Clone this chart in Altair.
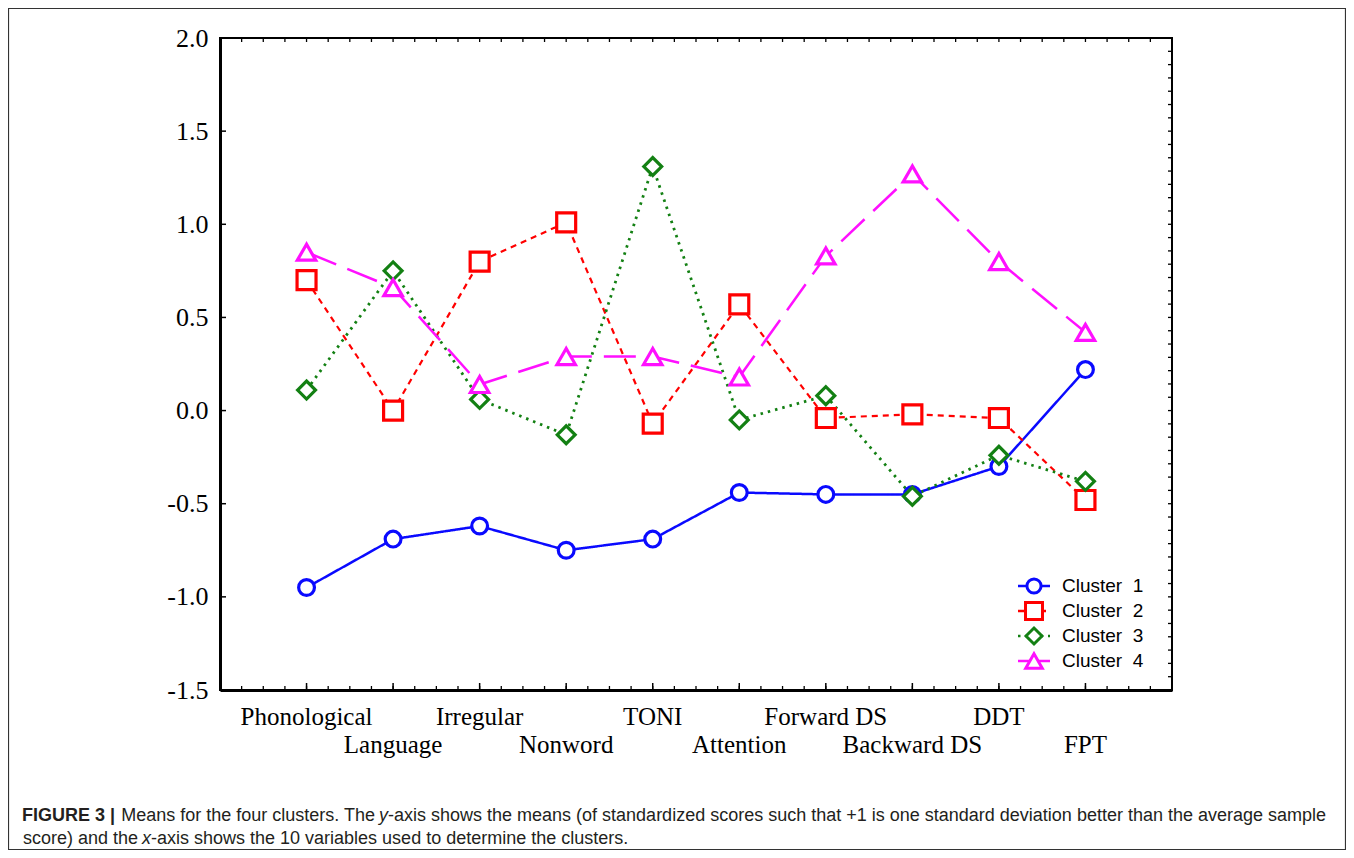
import altair as alt
import pandas as pd
import numpy as np

variables = ["Phonological", "Language", "Irregular", "Nonword", "TONI",
             "Attention", "Forward DS", "Backward DS", "DDT", "FPT"]
cluster1 = [-0.95, -0.69, -0.62, -0.75, -0.69, -0.44, -0.45, -0.45, -0.30, 0.22]
cluster2 = [0.70, 0.00, 0.80, 1.01, -0.07, 0.57, -0.04, -0.02, -0.04, -0.48]
cluster3 = [0.11, 0.75, 0.06, -0.13, 1.31, -0.05, 0.08, -0.46, -0.24, -0.38]
cluster4 = [0.85, 0.66, 0.14, 0.29, 0.29, 0.18, 0.83, 1.27, 0.80, 0.42]
cluster_names = ["Cluster 1", "Cluster 2", "Cluster 3", "Cluster 4"]
legend_labels = ["Cluster\u00a0\u00a01", "Cluster\u00a0\u00a02", "Cluster\u00a0\u00a03", "Cluster\u00a0\u00a04"]
y_ticks = [-1.5, -1.0, -0.5, 0.0, 0.5, 1.0, 1.5, 2.0]

series = [cluster1, cluster2, cluster3, cluster4]
colors = ["#0a0aff", "#ff0000", "#138013", "#ff10ff"]
dashes = [[1, 0], [6, 5], [2.5, 5], [32, 12]]
widths = [2.5, 2.2, 2.8, 2.5]
shapes = ["circle", "square", "diamond", "triangle-up"]
sizes = [250, 360, 320, 340]

W, H = 952, 652
xs = alt.Scale(domain=[0, 11], nice=False, zero=False)
ys = alt.Scale(domain=[-1.5, 2.0], nice=False, zero=False)

rows = []
for name, vals in zip(cluster_names, series):
    for i, (v, val) in enumerate(zip(variables, vals)):
        rows.append({"cluster": name, "variable": v, "pos": i + 1, "value": val})
df = pd.DataFrame(rows)

layers = []

base_axes = alt.Chart(pd.DataFrame({"pos": [0], "value": [0.0]})).mark_point(opacity=0).encode(
    x=alt.X("pos:Q", scale=xs, axis=alt.Axis(values=[], labels=False, ticks=False, grid=False,
                                              title=None, domainWidth=3, domainColor="black")),
    y=alt.Y("value:Q", scale=ys, axis=alt.Axis(values=y_ticks, ticks=False, grid=False, title=None,
                                                labelExpr="(datum.value < 0 ? '-' : '') + format(abs(datum.value), '.1f')",
                                                labelFont="Liberation Serif", labelFontSize=26,
                                                labelColor="black", labelPadding=12,
                                                domainWidth=3, domainColor="black")),
)
layers.append(base_axes)

# inward ticks
xminor = pd.DataFrame({"pos": np.arange(0.25, 11, 0.25)})
xmajor = pd.DataFrame({"pos": np.arange(1, 11, 1.0)})
yminor = pd.DataFrame({"value": np.arange(-1.5 + 0.5 / 7, 2.0, 0.5 / 7)})
ymajor = pd.DataFrame({"value": y_ticks[1:-1]})

layers.append(alt.Chart(xminor).mark_rule(color="black", strokeWidth=1.3).encode(
    x=alt.X("pos:Q", scale=xs), y=alt.value(H), y2=alt.value(H - 4)))
layers.append(alt.Chart(xmajor).mark_rule(color="black", strokeWidth=1.5).encode(
    x=alt.X("pos:Q", scale=xs), y=alt.value(H), y2=alt.value(H - 7)))
layers.append(alt.Chart(xminor).mark_rule(color="black", strokeWidth=1.3).encode(
    x=alt.X("pos:Q", scale=xs), y=alt.value(0), y2=alt.value(4)))
layers.append(alt.Chart(yminor).mark_rule(color="black", strokeWidth=1.3).encode(
    y=alt.Y("value:Q", scale=ys), x=alt.value(W), x2=alt.value(W - 4)))
layers.append(alt.Chart(ymajor).mark_rule(color="black", strokeWidth=1.5).encode(
    y=alt.Y("value:Q", scale=ys), x=alt.value(0), x2=alt.value(6)))

# lines
for name, col, dash, sw in zip(cluster_names, colors, dashes, widths):
    layers.append(alt.Chart(df).transform_filter(alt.datum.cluster == name).mark_line(
        color=col, strokeDash=dash, strokeWidth=sw).encode(
        x=alt.X("pos:Q", scale=xs), y=alt.Y("value:Q", scale=ys)))
# markers
for name, col, shp, sz in zip(cluster_names, colors, shapes, sizes):
    layers.append(alt.Chart(df).transform_filter(alt.datum.cluster == name).mark_point(
        shape=shp, size=sz, filled=True, fill="white", stroke=col, strokeWidth=3.2, opacity=1).encode(
        x=alt.X("pos:Q", scale=xs), y=alt.Y("value:Q", scale=ys)))

# x labels (staggered in two rows)
lab = pd.DataFrame({"pos": list(range(1, 11)), "name": variables,
                    "row": [i % 2 for i in range(10)]})
for r, yy in [(0, 679), (1, 707)]:
    layers.append(alt.Chart(lab).transform_filter(alt.datum.row == r).mark_text(
        font="Liberation Serif", fontSize=25, color="black", baseline="middle", align="center").encode(
        x=alt.X("pos:Q", scale=xs), y=alt.value(yy), text="name:N"))

# legend
one = pd.DataFrame({"a": [0]})
for i, (lbl, col, dash, shp, sz) in enumerate(zip(legend_labels, colors, dashes, shapes, sizes)):
    ly = 548 + 25 * i
    layers.append(alt.Chart(one).mark_rule(color=col, strokeDash=dash if i != 3 else [1, 0],
                                           strokeWidth=2.5).encode(
        x=alt.value(798), x2=alt.value(830), y=alt.value(ly)))
    layers.append(alt.Chart(one).mark_point(shape=shp, size=sz * 0.8, filled=True, fill="white",
                                            stroke=col, strokeWidth=3, opacity=1).encode(
        x=alt.value(814), y=alt.value(ly)))
    layers.append(alt.Chart(one).mark_text(text=lbl, font="Liberation Sans", fontSize=19,
                                           color="black", align="left", baseline="middle").encode(
        x=alt.value(842), y=alt.value(ly)))

# caption (plot-relative coordinates)
cap_font = "Liberation Sans"
cap_size = 18
cap = [
    # text, x, y, align, weight, style
    ("FIGURE 3 |", -198, 778, "left", "bold", "normal"),
    ("Means for the four clusters. The", 155, 778, "right", "normal", "normal"),
    ("y", 159, 778, "left", "normal", "italic"),
    ("-axis shows the means (of standardized scores such that +1 is one standard deviation better than the average sample",
     168, 778, "left", "normal", "normal"),
    ("score) and the", -82, 801, "right", "normal", "normal"),
    ("x", -78, 801, "left", "normal", "italic"),
    ("-axis shows the 10 variables used to determine the clusters.", -69, 801, "left", "normal", "normal"),
]
for txt, cx, cy, al, wt, st in cap:
    layers.append(alt.Chart(one).mark_text(text=txt, font=cap_font, fontSize=cap_size,
                                           fontWeight=wt, fontStyle=st, color="#231f20",
                                           align=al, baseline="middle").encode(
        x=alt.value(cx), y=alt.value(cy)))

# outer figure border
layers.append(alt.Chart(one).mark_rect(fill=None, fillOpacity=0, stroke="#333333", strokeWidth=1.2).encode(
    x=alt.value(-211.5), x2=alt.value(1125.5), y=alt.value(-29.5), y2=alt.value(811.5)))

chart = alt.layer(*layers).properties(
    width=W, height=H,
    autosize=alt.AutoSizeParams(type="none"),
    padding={"left": 212, "top": 30, "right": 174, "bottom": 160},
).configure_view(stroke="black", strokeWidth=2)

chart.save("out.html", embed_options={"renderer": "svg", "actions": False})
